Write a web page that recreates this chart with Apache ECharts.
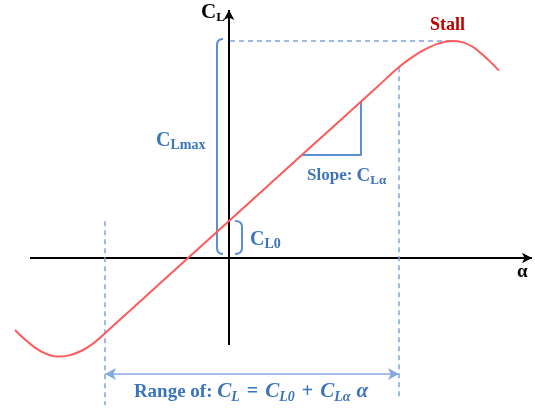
<!DOCTYPE html>
<html>
<head>
<meta charset="utf-8">
<title>Lift curve</title>
<script src="https://cdn.jsdelivr.net/npm/echarts@6/dist/echarts.min.js"></script>
<style>
  html, body { margin: 0; padding: 0; background: #fff; }
  #chart { width: 535px; height: 409px; }
</style>
</head>
<body>
<div id="chart"></div>
<script>
// Angle of attack (deg) and lift coefficient along the lift curve
const alpha = [-10.7, -10.2, -9.7, -9.2, -8.6, -8.0, -7.4, -6.8, -6.2, -5.0, -2.05, 0, 4.0, 7.5, 8.5, 9.2, 9.8, 10.5, 11.15, 11.7, 12.2, 12.7, 13.1, 13.5];
const cl    = [-0.36, -0.408, -0.448, -0.477, -0.493, -0.487, -0.465, -0.428, -0.376, -0.267, 0, 0.185, 0.547, 0.864, 0.955, 1.007, 1.043, 1.073, 1.085, 1.078, 1.055, 1.015, 0.978, 0.937];

// Key aerodynamic values
const clMax = 1.085;          // maximum lift coefficient
const alphaStall = 11.15;     // stall angle
const cl0 = 0.185;            // lift at zero angle of attack
const clAlpha = 0.0905;       // lift-curve slope per degree
const linearRange = [-6.2, 8.5];   // angles bounding the linear region
const slopeRun = [3.65, 6.6];      // run used to illustrate the slope

const clLin = a => cl0 + clAlpha * a;

// Drawing extents (axis units)
const viewAlpha = [-11.45, 15.3];
const viewCL = [-0.755, 1.29];
const axisAlpha = [-9.95, 15.15];
const axisCL = [-0.435, 1.24];
const rangeArrowCL = -0.58;
const guideBottomCL = [-0.735, -0.71];

const BLUE_TEXT = '#3b74bb';
const BLUE_LINE = '#5b8fd2';
const BLUE_DASH = '#7ea2dc';
const SERIF = '"Liberation Serif", "DejaVu Serif", serif';

const chart = echarts.init(document.getElementById('chart'), null, { renderer: 'canvas' });

// Rounded square bracket from (tip, top) via the spine down to (tip, bottom)
function bracketItem(params, api) {
  const tip = api.value(0), spine = api.value(1), top = api.value(2), bottom = api.value(3);
  const pTop = api.coord([tip, top]);
  const pSpTop = api.coord([spine, top]);
  const pSpBot = api.coord([spine, bottom]);
  const pBot = api.coord([tip, bottom]);
  const r = 6;
  const path = 'M' + pTop[0] + ' ' + pTop[1] +
    ' Q' + pSpTop[0] + ' ' + pSpTop[1] + ' ' + pSpTop[0] + ' ' + (pSpTop[1] + r) +
    ' L' + pSpBot[0] + ' ' + (pSpBot[1] - r) +
    ' Q' + pSpBot[0] + ' ' + pSpBot[1] + ' ' + pBot[0] + ' ' + pBot[1];
  return {
    type: 'path',
    shape: { pathData: path },
    style: { stroke: BLUE_LINE, fill: 'none', lineWidth: 2 }
  };
}

const hiddenAxis = {
  type: 'value',
  axisLine: { show: false },
  axisTick: { show: false },
  axisLabel: { show: false },
  splitLine: { show: false }
};

const option = {
  animation: false,
  backgroundColor: '#ffffff',
  grid: { left: 0, right: 0, top: 0, bottom: 0 },
  xAxis: Object.assign({ min: viewAlpha[0], max: viewAlpha[1] }, hiddenAxis),
  yAxis: Object.assign({ min: viewCL[0], max: viewCL[1] }, hiddenAxis),
  series: [
    {
      name: 'Axes',
      type: 'line',
      data: [],
      z: 3,
      markLine: {
        silent: true,
        symbol: ['none', 'arrow'],
        symbolSize: [8, 10],
        label: { show: false },
        lineStyle: { color: '#000', type: 'solid', width: 2 },
        data: [
          [{ coord: [axisAlpha[0], 0] }, { coord: [axisAlpha[1], 0] }],
          [{ coord: [0, axisCL[0]] }, { coord: [0, axisCL[1]] }]
        ]
      }
    },
    {
      name: 'CL',
      type: 'line',
      data: alpha.map((a, i) => [a, cl[i]]),
      smooth: 0.3,
      showSymbol: false,
      lineStyle: { color: '#ff5a5a', width: 2 },
      z: 5
    },
    {
      name: 'Guides',
      type: 'line',
      data: [],
      z: 2,
      markLine: {
        silent: true,
        symbol: ['none', 'none'],
        label: { show: false },
        lineStyle: { color: BLUE_DASH, type: [5, 4], width: 1.5 },
        data: [
          [{ coord: [0.05, clMax] }, { coord: [alphaStall, clMax] }],
          [{ coord: [linearRange[0], clLin(linearRange[0]) + 0.56] }, { coord: [linearRange[0], guideBottomCL[0]] }],
          [{ coord: [linearRange[1], clLin(linearRange[1])] }, { coord: [linearRange[1], guideBottomCL[1]] }]
        ]
      }
    },
    {
      name: 'Range',
      type: 'line',
      data: [],
      z: 2,
      markLine: {
        silent: true,
        symbol: ['arrow', 'arrow'],
        symbolSize: [9, 11],
        label: { show: false },
        lineStyle: { color: '#86a9e0', type: 'solid', width: 1.5 },
        data: [
          [{ coord: [linearRange[0], rangeArrowCL] }, { coord: [linearRange[1], rangeArrowCL] }]
        ]
      }
    },
    {
      name: 'Slope',
      type: 'line',
      data: [
        [slopeRun[0], clLin(slopeRun[0])],
        [slopeRun[1], clLin(slopeRun[0])],
        [slopeRun[1], clLin(slopeRun[1])]
      ],
      showSymbol: false,
      lineStyle: { color: BLUE_LINE, width: 2 },
      z: 4
    },
    {
      name: 'Brackets',
      type: 'custom',
      renderItem: bracketItem,
      data: [
        [-0.3, -0.6, clMax + 0.01, 0.02],
        [0.3, 0.65, cl0, 0.02]
      ]
    }
  ],
  graphic: [
    {
      type: 'text', x: 201, y: 13,
      style: {
        text: '{c|C}{s|L}',
        verticalAlign: 'middle',
        rich: {
          c: { fontFamily: SERIF, fontWeight: 'bold', fontSize: 21, fill: '#000', lineHeight: 22 },
          s: { fontFamily: SERIF, fontWeight: 'bold', fontSize: 13, fill: '#000', lineHeight: 13, verticalAlign: 'bottom' }
        }
      }
    },
    {
      type: 'text', x: 517, y: 272,
      style: { text: 'α', font: 'bold 19px ' + SERIF, fill: '#000', verticalAlign: 'middle' }
    },
    {
      type: 'text', x: 430, y: 25,
      style: { text: 'Stall', font: 'bold 18px ' + SERIF, fill: '#c00000', verticalAlign: 'middle' }
    },
    {
      type: 'text', x: 156, y: 141,
      style: {
        text: '{c|C}{s|Lmax}',
        verticalAlign: 'middle',
        rich: {
          c: { fontFamily: SERIF, fontWeight: 'bold', fontSize: 20, fill: BLUE_TEXT, lineHeight: 22 },
          s: { fontFamily: SERIF, fontWeight: 'bold', fontSize: 14, fill: BLUE_TEXT, lineHeight: 14, verticalAlign: 'bottom' }
        }
      }
    },
    {
      type: 'text', x: 250, y: 240,
      style: {
        text: '{c|C}{s|L0}',
        verticalAlign: 'middle',
        rich: {
          c: { fontFamily: SERIF, fontWeight: 'bold', fontSize: 20, fill: BLUE_TEXT, lineHeight: 22 },
          s: { fontFamily: SERIF, fontWeight: 'bold', fontSize: 14, fill: BLUE_TEXT, lineHeight: 14, verticalAlign: 'bottom' }
        }
      }
    },
    {
      type: 'text', x: 307, y: 176,
      style: {
        text: '{t|Slope: }{c|C}{s|Lα}',
        verticalAlign: 'middle',
        rich: {
          t: { fontFamily: SERIF, fontWeight: 'bold', fontSize: 17, fill: BLUE_TEXT, lineHeight: 22 },
          c: { fontFamily: SERIF, fontWeight: 'bold', fontSize: 19, fill: BLUE_TEXT, lineHeight: 22 },
          s: { fontFamily: SERIF, fontWeight: 'bold', fontSize: 13, fill: BLUE_TEXT, lineHeight: 14, verticalAlign: 'bottom' }
        }
      }
    },
    {
      type: 'text', x: 251, y: 392,
      style: {
        text: '{t|Range of: }{i|C}{s|L}{o|=}{i|C}{s|L0}{o|+}{i|C}{s|Lα}{a|α}',
        align: 'center',
        verticalAlign: 'middle',
        rich: {
          t: { fontFamily: SERIF, fontWeight: 'bold', fontSize: 19, fill: BLUE_TEXT, lineHeight: 24 },
          i: { fontFamily: SERIF, fontWeight: 'bold', fontStyle: 'italic', fontSize: 21, fill: BLUE_TEXT, lineHeight: 24 },
          a: { fontFamily: SERIF, fontWeight: 'bold', fontStyle: 'italic', fontSize: 21, fill: BLUE_TEXT, lineHeight: 24, padding: [0, 0, 0, 6] },
          o: { fontFamily: SERIF, fontWeight: 'bold', fontSize: 20, fill: BLUE_TEXT, lineHeight: 24, padding: [0, 7, 0, 7] },
          s: { fontFamily: SERIF, fontWeight: 'bold', fontStyle: 'italic', fontSize: 14, fill: BLUE_TEXT, lineHeight: 14, verticalAlign: 'bottom' }
        }
      }
    }
  ]
};

chart.setOption(option);
</script>
</body>
</html>
